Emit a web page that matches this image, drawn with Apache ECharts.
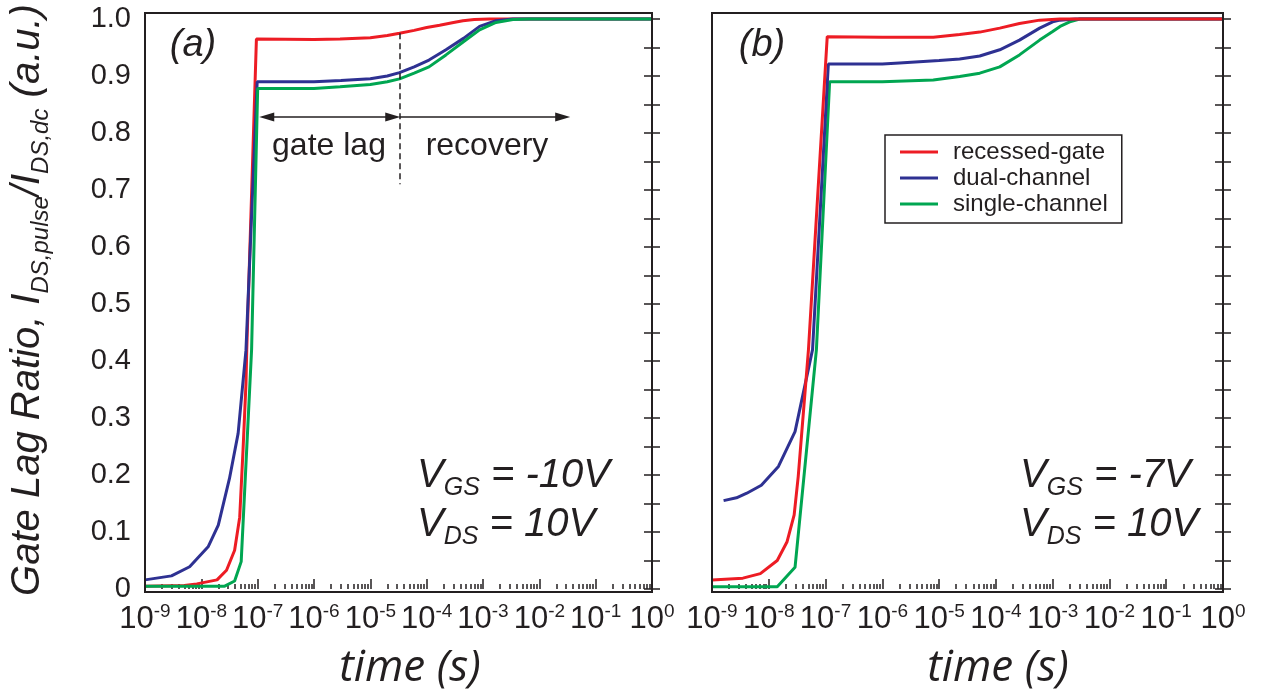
<!DOCTYPE html>
<html><head><meta charset="utf-8">
<script src="https://cdn.jsdelivr.net/npm/echarts@6/dist/echarts.min.js"></script>
<style>html,body{margin:0;padding:0;background:#fff}#c{width:1261px;height:698px}</style>
</head><body><div id="c"></div>
<script>
// ---------- data ----------
const seriesNames = ['recessed-gate', 'dual-channel', 'single-channel'];
const seriesColors = ['#ED1C24', '#2E3192', '#00A651'];
const xMin = 1e-9, xMax = 1;
const minorFactors = [2, 3, 4, 5, 6, 7, 8, 9];
const yMin = 0, yMax = 1, yStep = 0.05;

// panel (a): VGS = -10 V
const aRecessed = [[1e-9,0.005],[5e-9,0.006],[8.3e-9,0.009],[1.9e-8,0.016],[2.8e-8,0.033],[3.9e-8,0.068],[4.8e-8,0.126],[5.5e-8,0.244],[6.2e-8,0.36],[6.4e-8,0.42],[9.5e-8,0.965],[1e-6,0.964],[2.9e-6,0.965],[1e-5,0.967],[2e-5,0.971],[3.3e-5,0.975],[6e-5,0.98],[1e-4,0.985],[1.7e-4,0.989],[3e-4,0.994],[4.4e-4,0.997],[7e-4,0.999],[1.3e-3,1.0],[1,1.0]];
const aDual = [[1e-9,0.016],[2.95e-9,0.023],[6.2e-9,0.039],[1.32e-8,0.074],[2.0e-8,0.112],[3.16e-8,0.194],[4.5e-8,0.273],[6.2e-8,0.419],[9.8e-8,0.89],[1e-6,0.89],[3e-6,0.892],[1e-5,0.895],[2e-5,0.9],[3.3e-5,0.906],[6e-5,0.916],[1.1e-4,0.928],[2.2e-4,0.946],[4.5e-4,0.966],[8.7e-4,0.987],[1.7e-3,0.997],[3.4e-3,1.0],[1,1.0]];
const aSingle = [[1e-9,0.005],[2.6e-8,0.005],[3.9e-8,0.014],[5.1e-8,0.048],[7.8e-8,0.42],[1e-7,0.878],[1e-6,0.878],[2.9e-6,0.881],[1e-5,0.885],[2e-5,0.89],[3.3e-5,0.895],[6e-5,0.905],[1.1e-4,0.916],[2.2e-4,0.937],[4.5e-4,0.96],[8.7e-4,0.981],[1.7e-3,0.994],[3.4e-3,0.999],[6.5e-3,1.0],[1,1.0]];

// panel (b): VGS = -7 V
const bRecessed = [[1e-9,0.016],[3.5e-9,0.019],[7.1e-9,0.027],[1.41e-8,0.05],[2.1e-8,0.083],[2.8e-8,0.13],[3.3e-8,0.197],[5e-8,0.42],[1.07e-7,0.969],[1e-6,0.968],[7.9e-6,0.968],[2.3e-5,0.973],[5.2e-5,0.977],[1.17e-4,0.984],[2.6e-4,0.992],[5.9e-4,0.998],[1.35e-3,1.0],[1,1.0]];
const bDual = [[1.6e-9,0.155],[2.7e-9,0.16],[4.1e-9,0.168],[7.4e-9,0.182],[1.48e-8,0.215],[2.9e-8,0.276],[5.9e-8,0.42],[1.12e-7,0.921],[1e-6,0.921],[2e-6,0.923],[1e-5,0.927],[2.3e-5,0.93],[5.2e-5,0.935],[1.17e-4,0.946],[2.6e-4,0.963],[5.9e-4,0.984],[1e-3,0.995],[1.35e-3,0.998],[2.5e-3,1.0],[1,1.0]];
const bSingle = [[1e-9,0.004],[1.41e-8,0.004],[2.9e-8,0.038],[6.9e-8,0.42],[1.18e-7,0.89],[1e-6,0.89],[7.9e-6,0.893],[2.3e-5,0.899],[5.2e-5,0.905],[1.17e-4,0.916],[2.6e-4,0.937],[5.9e-4,0.963],[1e-3,0.978],[1.35e-3,0.987],[2e-3,0.995],[3e-3,1.0],[1,1.0]];

// annotation values (panel a)
const dashX = 3.3e-5, dashTop = 0.975, dashBottom = 0.71;
const arrowY = 0.828, gateLagStart = 1.45e-7, gateLagEnd = 2.5e-5, recoveryEnd = 0.026;

// ---------- layout ----------
const INK = '#231f20';
const grids = [
  {left: 145, top: 19, width: 507, height: 570},
  {left: 712, top: 19, width: 511, height: 570}
];
const minorExps = [];
for (let d = -9; d < 0; d++) minorFactors.forEach(k => minorExps.push(Math.log10(k) + d));

function xLabelFmt(v) {
  const e = Math.round(Math.log10(v));
  return '{b|10}{s|' + e + '}';
}
function yLabelFmt(v) {
  const k = Math.round(v * 20);
  if (k % 2) return '';
  return k === 0 ? '0' : (k / 20).toFixed(1);
}
const xLabelStyle = {
  margin: 10,
  formatter: xLabelFmt,
  color: INK,
  rich: {
    b: {fontFamily: 'Liberation Sans', fontSize: 31, lineHeight: 34, color: INK, verticalAlign: 'middle'},
    s: {fontFamily: 'Liberation Sans', fontSize: 19, lineHeight: 19, color: INK, verticalAlign: 'top'}
  }
};

const xAxes = [], yAxes = [];
grids.forEach((g, gi) => {
  xAxes.push({
    gridIndex: gi, type: 'log', logBase: 10, min: xMin, max: xMax, splitNumber: 10,
    position: 'bottom', offset: 3,
    axisLine: {show: false},
    axisTick: {show: true, inside: true, length: 10, lineStyle: {color: INK, width: 1.5}},
    axisLabel: xLabelStyle,
    splitLine: {show: false}, minorTick: {show: false}
  });
  xAxes.push({
    gridIndex: gi, type: 'value', min: -9, max: 0,
    position: 'bottom', offset: 3,
    axisLine: {show: false},
    axisTick: {show: true, inside: true, length: 5, customValues: minorExps, lineStyle: {color: INK, width: 1.5}},
    axisLabel: {show: false},
    splitLine: {show: false}
  });
  ['left', 'right'].forEach(pos => {
    yAxes.push({
      gridIndex: gi, type: 'value', min: yMin, max: yMax, interval: yStep, position: pos,
      axisLine: {show: false},
      axisTick: {show: true, inside: true, length: 8, lineStyle: {color: INK, width: 1.5}},
      axisLabel: {show: gi === 0 && pos === 'left', formatter: yLabelFmt, fontFamily: 'Liberation Sans', fontSize: 29, color: INK, margin: 14},
      splitLine: {show: false}
    });
  });
});

function mkSeries(name, data, gi, extra) {
  const ci = seriesNames.indexOf(name);
  return Object.assign({
    type: 'line', name: name, data: data,
    xAxisIndex: gi * 2, yAxisIndex: gi * 2,
    symbol: 'none', clip: false, silent: true,
    lineStyle: {color: seriesColors[ci], width: 3},
    itemStyle: {color: seriesColors[ci]},
    emphasis: {disabled: true}
  }, extra || {});
}

const arrowSym = {symbol: 'triangle', symbolSize: [9, 15]};
const series = [
  mkSeries('recessed-gate', aRecessed, 0),
  mkSeries('dual-channel', aDual, 0, {
    markLine: {
      silent: true, symbol: ['none', 'none'], label: {show: false},
      lineStyle: {color: INK, width: 1.5, type: [6, 4]},
      emphasis: {disabled: true},
      data: [[{coord: [dashX, dashTop]}, {coord: [dashX, dashBottom]}]]
    }
  }),
  mkSeries('single-channel', aSingle, 0, {
    markLine: {
      silent: true, symbol: ['none', 'none'], label: {show: false},
      lineStyle: {color: INK, width: 1.5, type: 'solid'},
      emphasis: {disabled: true},
      data: [
        [Object.assign({coord: [gateLagStart, arrowY]}, arrowSym), Object.assign({coord: [gateLagEnd, arrowY]}, arrowSym)],
        [{coord: [dashX, arrowY], symbol: 'none'}, Object.assign({coord: [recoveryEnd, arrowY]}, arrowSym)]
      ]
    }
  }),
  mkSeries('single-channel', bSingle, 1),
  mkSeries('dual-channel', bDual, 1),
  mkSeries('recessed-gate', bRecessed, 1)
];

function txt(x, y, text, rich, opts) {
  return Object.assign({
    type: 'text', x: x, y: y, silent: true,
    style: Object.assign({text: text, rich: rich, fill: INK, align: 'center', verticalAlign: 'middle'}, opts && opts.style)
  }, opts && opts.el);
}
const italicRich = (main, sub) => ({
  m: {fontFamily: 'Liberation Sans', fontStyle: 'italic', fontSize: main, lineHeight: main * 1.25, fill: INK, verticalAlign: 'middle'},
  s: {fontFamily: 'Liberation Sans', fontStyle: 'italic', fontSize: sub, lineHeight: sub, fill: INK, verticalAlign: 'bottom'}
});
const plain = (size) => ({m: {fontFamily: 'Liberation Sans', fontSize: size, fill: INK}});
const timeRich = {m: {fontFamily: 'Open Sans', fontStyle: 'italic', fontSize: 44, fill: INK}};

const graphic = [];
grids.forEach(g => {
  graphic.push({
    type: 'rect', silent: true, z: 100,
    shape: {x: g.left, y: g.top - 6, width: g.width, height: g.height + 9},
    style: {fill: 'none', stroke: INK, lineWidth: 2}
  });
});
graphic.push(
  txt(28, 300, '{m|Gate Lag Ratio, I}{s|DS,pulse}{m|/I}{s|DS,dc}{m| (a.u.)}', italicRich(40, 24), {el: {rotation: Math.PI / 2}}),
  txt(193, 45, '{m|(a)}', italicRich(38, 24)),
  txt(762, 45, '{m|(b)}', italicRich(38, 24)),
  txt(329, 146, '{m|gate lag}', plain(32)),
  txt(487, 146, '{m|recovery}', plain(32)),
  txt(417, 476, '{m|V}{s|GS}{m| = -10V}', italicRich(40, 25), {style: {align: 'left'}}),
  txt(417, 525, '{m|V}{s|DS}{m| = 10V}', italicRich(40, 25), {style: {align: 'left'}}),
  txt(1020, 476, '{m|V}{s|GS}{m| = -7V}', italicRich(40, 25), {style: {align: 'left'}}),
  txt(1020, 525, '{m|V}{s|DS}{m| = 10V}', italicRich(40, 25), {style: {align: 'left'}}),
  txt(410, 668, '{m|time (s)}', timeRich),
  txt(998, 668, '{m|time (s)}', timeRich)
);

const chart = echarts.init(document.getElementById('c'), null, {renderer: 'canvas'});
chart.setOption({
  animation: false,
  backgroundColor: '#ffffff',
  grid: grids.map(g => Object.assign({containLabel: false}, g)),
  xAxis: xAxes,
  yAxis: yAxes,
  legend: {
    data: seriesNames.map(n => ({name: n, icon: 'rect'})),
    orient: 'vertical', left: 885, top: 135,
    padding: [5, 14, 7, 15], itemGap: 2, itemWidth: 38, itemHeight: 3,
    borderColor: INK, borderWidth: 1.5, selectedMode: false,
    formatter: n => '{g|}' + n,
    textStyle: {fontFamily: 'Liberation Sans', fontSize: 24, color: INK, rich: {g: {width: 10}}}
  },
  series: series,
  graphic: graphic
});
</script>
</body></html>
